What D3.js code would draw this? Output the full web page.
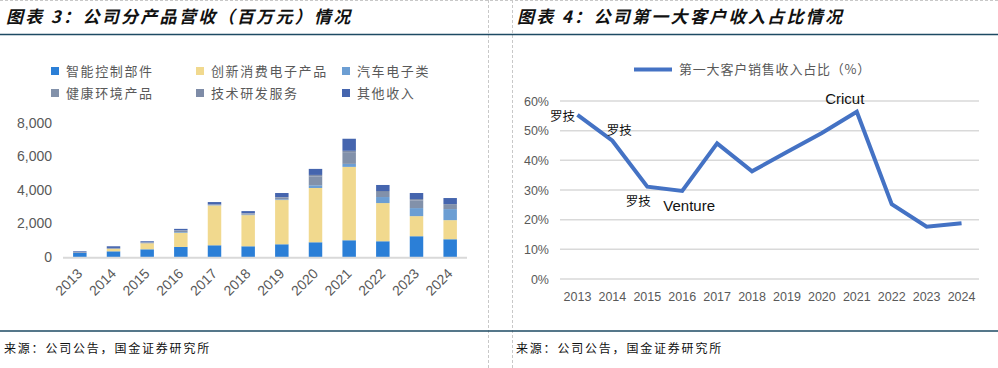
<!DOCTYPE html>
<html><head><meta charset="utf-8">
<script src="https://cdn.jsdelivr.net/npm/d3@7"></script>
<style>
html,body{margin:0;padding:0;background:#fff;}
svg{display:block;}
</style></head>
<body>
<svg id="c" width="998" height="368"></svg>
<script>
// ---------- data ----------
const years = ["2013","2014","2015","2016","2017","2018","2019","2020","2021","2022","2023","2024"];
const seriesNames = ["智能控制部件","创新消费电子产品","汽车电子类","健康环境产品","技术研发服务","其他收入"];
const smartControl = [240, 340, 460, 600, 700, 640, 760, 880, 1000, 940, 1240, 1060];
const consumerElec = [0, 140, 360, 840, 2380, 1860, 2640, 3240, 4380, 2280, 1200, 1140];
const autoElec     = [0, 0, 0, 40, 20, 30, 40, 160, 180, 360, 480, 660];
const healthEnv    = [30, 40, 40, 100, 30, 60, 100, 520, 660, 300, 460, 250];
const techService  = [20, 20, 20, 20, 10, 30, 40, 100, 120, 60, 80, 50];
const otherIncome  = [50, 100, 60, 80, 140, 120, 240, 360, 720, 360, 360, 360];
const leftTicks = [0, 2000, 4000, 6000, 8000];

const topCustomerShare = [55.3, 46.6, 31.1, 29.7, 45.7, 36.3, 42.8, 49.2, 56.4, 25.2, 17.6, 18.8];
const rightTicks = [0, 10, 20, 30, 40, 50, 60];
const annotations = [
  {year:"2013", text:"罗技"},
  {year:"2014", text:"罗技"},
  {year:"2015", text:"罗技"},
  {year:"2016", text:"Venture"},
  {year:"2021", text:"Cricut"}
];

// ---------- styles ----------
const colors = ["#2B7FD7","#F1D98E","#6C9ED3","#8291AA","#7E8CA7","#4565AE"];
const annOffsets = [[-15,2],[7,-10],[-9,15],[7,15],[-12,-13]];
const cjk = "'Noto Sans CJK SC','Noto Sans',sans-serif";
const latin = "'Liberation Sans',Arial,sans-serif";
const svg = d3.select("#c");

// frame
svg.append("line").attr("x1",0).attr("x2",998).attr("y1",0.5).attr("y2",0.5)
  .attr("stroke","#c8c8c8").attr("stroke-dasharray","3,2");
[488.5, 512.5].forEach(x => svg.append("line").attr("x1",x).attr("x2",x).attr("y1",0).attr("y2",368)
  .attr("stroke","#c8c8c8").attr("stroke-dasharray","3,2"));
[34.5, 331].forEach(y => svg.append("line").attr("x1",0).attr("x2",998).attr("y1",y).attr("y2",y)
  .attr("stroke","#1d4a63").attr("stroke-width",1.6));

// titles
svg.append("text").attr("x",6).attr("y",23).text("图表 3：公司分产品营收（百万元）情况")
  .attr("font-family",cjk).attr("font-weight",700).attr("font-style","italic")
  .attr("font-size",17).attr("letter-spacing",2.3).attr("fill","#111");
svg.append("text").attr("x",517).attr("y",23).text("图表 4：公司第一大客户收入占比情况")
  .attr("font-family",cjk).attr("font-weight",700).attr("font-style","italic")
  .attr("font-size",17).attr("letter-spacing",2.3).attr("fill","#111");
// sources
[4, 516].forEach(x => svg.append("text").attr("x",x).attr("y",353).text("来源：公司公告，国金证券研究所")
  .attr("font-family",cjk).attr("font-size",12).attr("letter-spacing",1.8).attr("fill","#111"));

// ---------- left chart ----------
const seriesArrays = [smartControl, consumerElec, autoElec, healthEnv, techService, otherIncome];
const rows = years.map((y,i) => {
  const r = {year:y};
  seriesNames.forEach((n,k) => r[n] = seriesArrays[k][i]);
  return r;
});
const stack = d3.stack().keys(seriesNames)(rows);
const xL = d3.scaleBand().domain(years).range([63,467]).paddingInner(0.6).paddingOuter(0.3);
const yL = d3.scaleLinear().domain([0,8000]).range([257,123]);

const gL = svg.append("g");
gL.selectAll("g.s").data(stack).join("g").attr("fill",(d,i)=>colors[i])
  .selectAll("rect").data(d=>d).join("rect")
  .attr("x",d=>xL(d.data.year)).attr("width",xL.bandwidth())
  .attr("y",d=>yL(d[1])).attr("height",d=>Math.max(0,yL(d[0])-yL(d[1])));

gL.append("line").attr("x1",63).attr("x2",467).attr("y1",yL(0)+0.8).attr("y2",yL(0)+0.8)
  .attr("stroke","#d9d9d9").attr("stroke-width",2);

const axL = d3.axisLeft(yL).tickValues(leftTicks).tickFormat(d3.format(",")).tickSize(0).tickPadding(0);
const gAxL = svg.append("g").attr("transform","translate(52,0)").call(axL);
gAxL.select(".domain").remove();
gAxL.selectAll("text").attr("font-family",latin).attr("font-size",14).attr("fill","#595959");

const axXL = d3.axisBottom(xL).tickSize(0).tickPadding(0);
const gXL = svg.append("g").call(axXL);
gXL.select(".domain").remove();
gXL.selectAll(".tick").attr("transform",d=>`translate(${xL(d)+xL.bandwidth()/2},271)`);
gXL.selectAll("text").attr("font-family",latin).attr("font-size",14).attr("fill","#595959")
  .attr("text-anchor","end").attr("transform","rotate(-45)").attr("y",0).attr("dy","0.35em");

// legend
const legPos = [[51,71],[196,71],[342,71],[51,93],[196,93],[342,93]];
seriesNames.forEach((n,i)=>{
  const [x,y] = legPos[i];
  svg.append("rect").attr("x",x).attr("y",y-4).attr("width",8).attr("height",8).attr("fill",colors[i]);
  svg.append("text").attr("x",x+15).attr("y",y).attr("dy","0.35em").text(n)
    .attr("font-family",cjk).attr("font-size",13).attr("letter-spacing",1.6).attr("fill","#595959");
});

// ---------- right chart ----------
const xR = d3.scaleBand().domain(years).range([560,979]);
const yR = d3.scaleLinear().domain([0,60]).range([279,101]);
const gR = svg.append("g");
gR.selectAll("line.grid").data(rightTicks).join("line").attr("class","grid")
  .attr("x1",560).attr("x2",979).attr("y1",d=>yR(d)).attr("y2",d=>yR(d))
  .attr("stroke","#d9d9d9").attr("stroke-width",1.5);

const axR = d3.axisLeft(yR).tickValues(rightTicks).tickFormat(d=>d+"%").tickSize(0).tickPadding(0);
const gAxR = svg.append("g").attr("transform","translate(549,0)").call(axR);
gAxR.select(".domain").remove();
gAxR.selectAll("text").attr("font-family",latin).attr("font-size",12.5).attr("fill","#595959");

const axXR = d3.axisBottom(xR).tickSize(0).tickPadding(0);
const gXR = svg.append("g").attr("transform","translate(0,297)").call(axXR);
gXR.select(".domain").remove();
gXR.selectAll("text").attr("font-family",latin).attr("font-size",12.5).attr("fill","#595959").attr("dy","0.35em");

const line = d3.line().x((d,i)=>xR(years[i])+xR.bandwidth()/2).y(d=>yR(d));
gR.append("path").datum(topCustomerShare).attr("d",line).attr("fill","none")
  .attr("stroke","#4472C4").attr("stroke-width",4);

annotations.forEach((a,k)=>{
  const i = years.indexOf(a.year);
  const cx = xR(a.year)+xR.bandwidth()/2, cy = yR(topCustomerShare[i]);
  const isCjk = /[\u4e00-\u9fff]/.test(a.text);
  gR.append("text").attr("x",cx+annOffsets[k][0]).attr("y",cy+annOffsets[k][1]).attr("dy","0.35em")
    .attr("text-anchor","middle").text(a.text)
    .attr("font-family",isCjk?cjk:latin).attr("font-size",isCjk?12.5:15).attr("fill","#111");
});

// right legend
svg.append("line").attr("x1",634).attr("x2",672).attr("y1",69.5).attr("y2",69.5)
  .attr("stroke","#4472C4").attr("stroke-width",4);
svg.append("text").attr("x",679).attr("y",69.5).attr("dy","0.35em").text("第一大客户销售收入占比（%）")
  .attr("font-family",cjk).attr("font-size",13).attr("letter-spacing",0.8).attr("fill","#595959");
</script>
</body></html>
